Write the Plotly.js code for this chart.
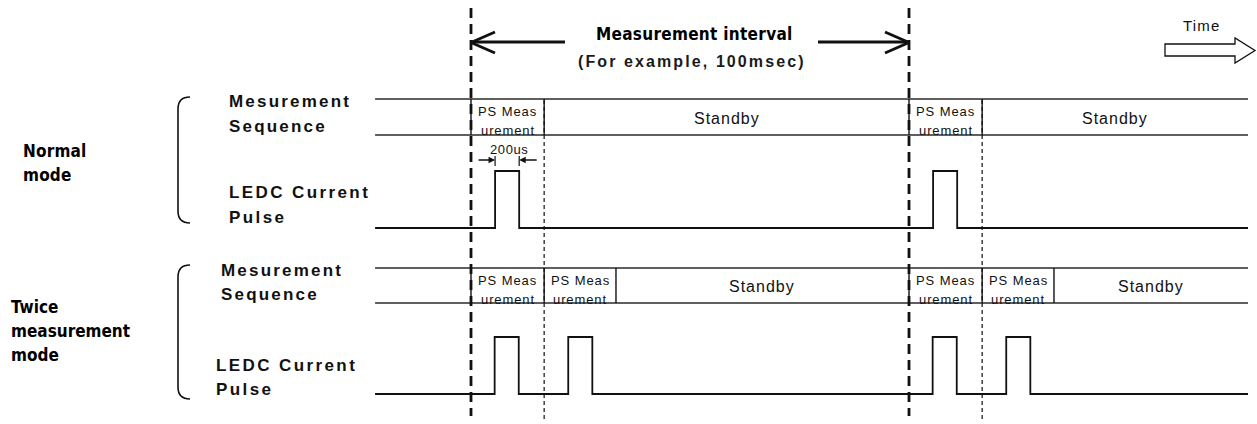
<!DOCTYPE html>
<html><head><meta charset="utf-8">
<script src="https://cdn.plot.ly/plotly-3.0.1.min.js"></script>
<style>html,body{margin:0;padding:0;background:#fff;}#chart{width:1257px;height:424px;}</style>
</head><body><div id="chart"></div>
<script>
// ---------------- data (time in ms, schematic) ----------------
const intervalStarts = [0, 100];            // start of each measurement interval
const intervalLength = 100;                 // "For example, 100msec"
const timelineStart = -21.9;
const timelineEnd = 177.4;
const normalSlotEdges = [0, 16.7];          // PS measurement slot edges (offset from interval start)
const twiceSlotEdges = [0, 16.7, 33.1];     // two PS measurement slots
const pulseWidth = 5.5;                     // LED current pulse (200us, schematic)
const normalPulseOffsets = [5.5];
const twicePulseOffsets = [5.4, 22.2];

const rowLabelsNormal = ['Mesurement', 'Sequence', 'LEDC Current', 'Pulse'];
const rowLabelsTwice = ['Mesurement', 'Sequence', 'LEDC Current', 'Pulse'];
const modeNormalLines = ['Normal', 'mode'];
const modeTwiceLines = ['Twice', 'measurement', 'mode'];
const slotLabelLines = ['PS Meas', 'urement'];
const standbyLabel = 'Standby';
const intervalTitle = 'Measurement interval';
const intervalExample = '(For example, 100msec)';
const pulseWidthLabel = '200us';
const timeLabel = 'Time';

// ---------------- layout helpers ----------------
const W = 1257, H = 424;
const pxPerMs = 438 / intervalLength;
const x0px = 471;
const xRange = [-x0px / pxPerMs, (W - x0px) / pxPerMs];
const P = px => px / W; // paper x from pixel
const INK = '#111';
const ARIAL = 'Liberation Sans, Arial, sans-serif';
const NARROW = 'DejaVu Sans Condensed, Liberation Sans Narrow, sans-serif';
const sp = (t, s) => s ? `<span style="letter-spacing:${s}px">${t}</span>` : t;

const rows = {
  normal: {seqTop: 99, seqBot: 135, low: 228, high: 171, edges: normalSlotEdges, pulses: normalPulseOffsets},
  twice: {seqTop: 268, seqBot: 303, low: 394, high: 337, edges: twiceSlotEdges, pulses: twicePulseOffsets}
};

const traces = [];
const line = (x, y, width, dash, color) => traces.push({
  type: 'scatter', mode: 'lines', x, y, hoverinfo: 'skip',
  line: {color: color || INK, width, dash: dash || 'solid'}
});

Object.values(rows).forEach(r => {
  // sequence band borders
  line([timelineStart, timelineEnd, null, timelineStart, timelineEnd],
       [r.seqTop, r.seqTop, null, r.seqBot, r.seqBot], 1.5, null, '#2a2a2a');
  // slot dividers
  const dx = [], dy = [];
  intervalStarts.forEach(s => r.edges.forEach(e => { dx.push(s + e, s + e, null); dy.push(r.seqTop, r.seqBot, null); }));
  line(dx, dy, 1.4);
  // pulse waveform
  const px = [timelineStart], py = [r.low];
  intervalStarts.forEach(s => r.pulses.forEach(p => {
    const a = s + p, b = s + p + pulseWidth;
    px.push(a, a, b, b); py.push(r.low, r.high, r.high, r.low);
  }));
  px.push(timelineEnd); py.push(r.low);
  line(px, py, 1.8);
});

// heavy dashed interval markers
intervalStarts.forEach(s => line([s, s], [8, 416], 2.8, '10px,6px'));
// thin dashed end-of-first-slot markers
intervalStarts.forEach(s => line([s + normalSlotEdges[1], s + normalSlotEdges[1]], [100, 422], 1.2, '4px,3px'));

// measurement interval arrows
const arm = 24 / pxPerMs;
const s0 = intervalStarts[0], s1 = intervalStarts[1];
line([s0, s0 + 94 / pxPerMs], [42, 42], 3);
line([s1 - 91 / pxPerMs, s1], [42, 42], 3);
line([s0 + arm, s0, s0 + arm], [32, 42.5, 53], 3);
line([s1 - arm, s1, s1 - arm], [32, 42.5, 53], 3);

// 200us dimension extension ticks
const pA = s0 + normalPulseOffsets[0], pB = pA + pulseWidth;
line([pA, pA, null, pB, pB], [156, 166, null, 156, 166], 1.2);

const ann = [];
const txt = (x, y, text, size, opts) => ann.push(Object.assign({
  x, y, xref: 'x', yref: 'y', text, showarrow: false,
  font: {family: ARIAL, size, color: INK}, xanchor: 'center', yanchor: 'middle'
}, opts || {}));

// 200us arrows
ann.push({x: pA, y: 160, ax: pA - 18 / pxPerMs, ay: 160, axref: 'x', ayref: 'y', xref: 'x', yref: 'y',
  text: '', showarrow: true, arrowhead: 2, arrowsize: 1, arrowwidth: 1.3, arrowcolor: INK});
ann.push({x: pB, y: 160, ax: pB + 19 / pxPerMs, ay: 160, axref: 'x', ayref: 'y', xref: 'x', yref: 'y',
  text: '', showarrow: true, arrowhead: 2, arrowsize: 1, arrowwidth: 1.3, arrowcolor: INK});
txt((pA + pB) / 2 + 0.4, 149, sp(pulseWidthLabel, 0.6), 13);

// slot labels and standby labels
Object.values(rows).forEach(r => {
  intervalStarts.forEach(s => {
    for (let i = 0; i < r.edges.length - 1; i++) {
      const c = s + (r.edges[i] + r.edges[i + 1]) / 2;
      txt(c, r.seqTop + 12, sp(slotLabelLines[0], 0.9), 13);
      txt(c, r.seqTop + 31, sp(slotLabelLines[1], 0.9), 13);
    }
    const last = s + r.edges[r.edges.length - 1];
    const next = intervalStarts.find(v => v > s);
    const end = next !== undefined ? next : timelineEnd;
    txt((last + end) / 2, (r.seqTop + r.seqBot) / 2 + 1, sp(standbyLabel, 1), 16);
  });
});

// interval title
txt(s0 + (s1 - s0) * 0.51, 34, sp(intervalTitle, 0.3), 17, {font: {family: NARROW, size: 17, color: '#000', weight: 'bold'}});
txt(s0 + (s1 - s0) * 0.505, 61, sp(intervalExample, 2.1), 16, {font: {family: ARIAL, size: 16, color: '#1a1a1a', weight: 'bold'}});

// left labels (paper coordinates)
const ptxt = (px, y, text, size, font) => ann.push({
  x: P(px), y, xref: 'paper', yref: 'y', text, showarrow: false,
  xanchor: 'left', yanchor: 'middle', font: Object.assign({family: ARIAL, size, color: INK, weight: 'bold'}, font || {})
});
const nY = [101, 126, 192, 217];
rowLabelsNormal.forEach((t, i) => ptxt(227, nY[i], sp(t, i < 2 ? 2.2 : 2.4), 17));
const tY = [270, 294, 365, 389];
rowLabelsTwice.forEach((t, i) => ptxt(i < 2 ? 219 : 214, tY[i], sp(t, i < 2 ? 2.2 : 2.4), 17));
const mnY = [151, 175];
modeNormalLines.forEach((t, i) => ptxt(21, mnY[i], sp(t, 0.2), 17, {family: NARROW, color: '#000'}));
const mtY = [307, 331, 355];
modeTwiceLines.forEach((t, i) => ptxt(9, mtY[i], sp(t, 0), 17, {family: NARROW, color: '#000'}));
ptxt(1181, 25, sp(timeLabel, 1.2), 15, {weight: 'normal'});

// shapes: braces and time arrow
const shapes = [];
const brace = (x, top, bot) => shapes.push({
  type: 'path', xref: 'paper', yref: 'y', line: {color: INK, width: 1.6},
  path: `M ${P(x + 12)} ${top} Q ${P(x)} ${top} ${P(x)} ${top + 12} L ${P(x)} ${bot - 12} Q ${P(x)} ${bot} ${P(x + 12)} ${bot}`
});
brace(178, 97, 223);
brace(178, 265, 399);
shapes.push({type: 'path', xref: 'paper', yref: 'y', fillcolor: '#fff', line: {color: INK, width: 1.3},
  path: `M ${P(1165)} 44 L ${P(1235)} 44 L ${P(1235)} 38 L ${P(1255)} 50.5 L ${P(1235)} 63 L ${P(1235)} 56 L ${P(1165)} 56 Z`});

Plotly.newPlot('chart', traces, {
  width: W, height: H, margin: {l: 0, r: 0, t: 0, b: 0},
  paper_bgcolor: '#fff', plot_bgcolor: '#fff', showlegend: false,
  xaxis: {range: xRange, visible: false, fixedrange: true},
  yaxis: {range: [H, 0], visible: false, fixedrange: true},
  annotations: ann, shapes
}, {staticPlot: true, displayModeBar: false});
</script></body></html>
